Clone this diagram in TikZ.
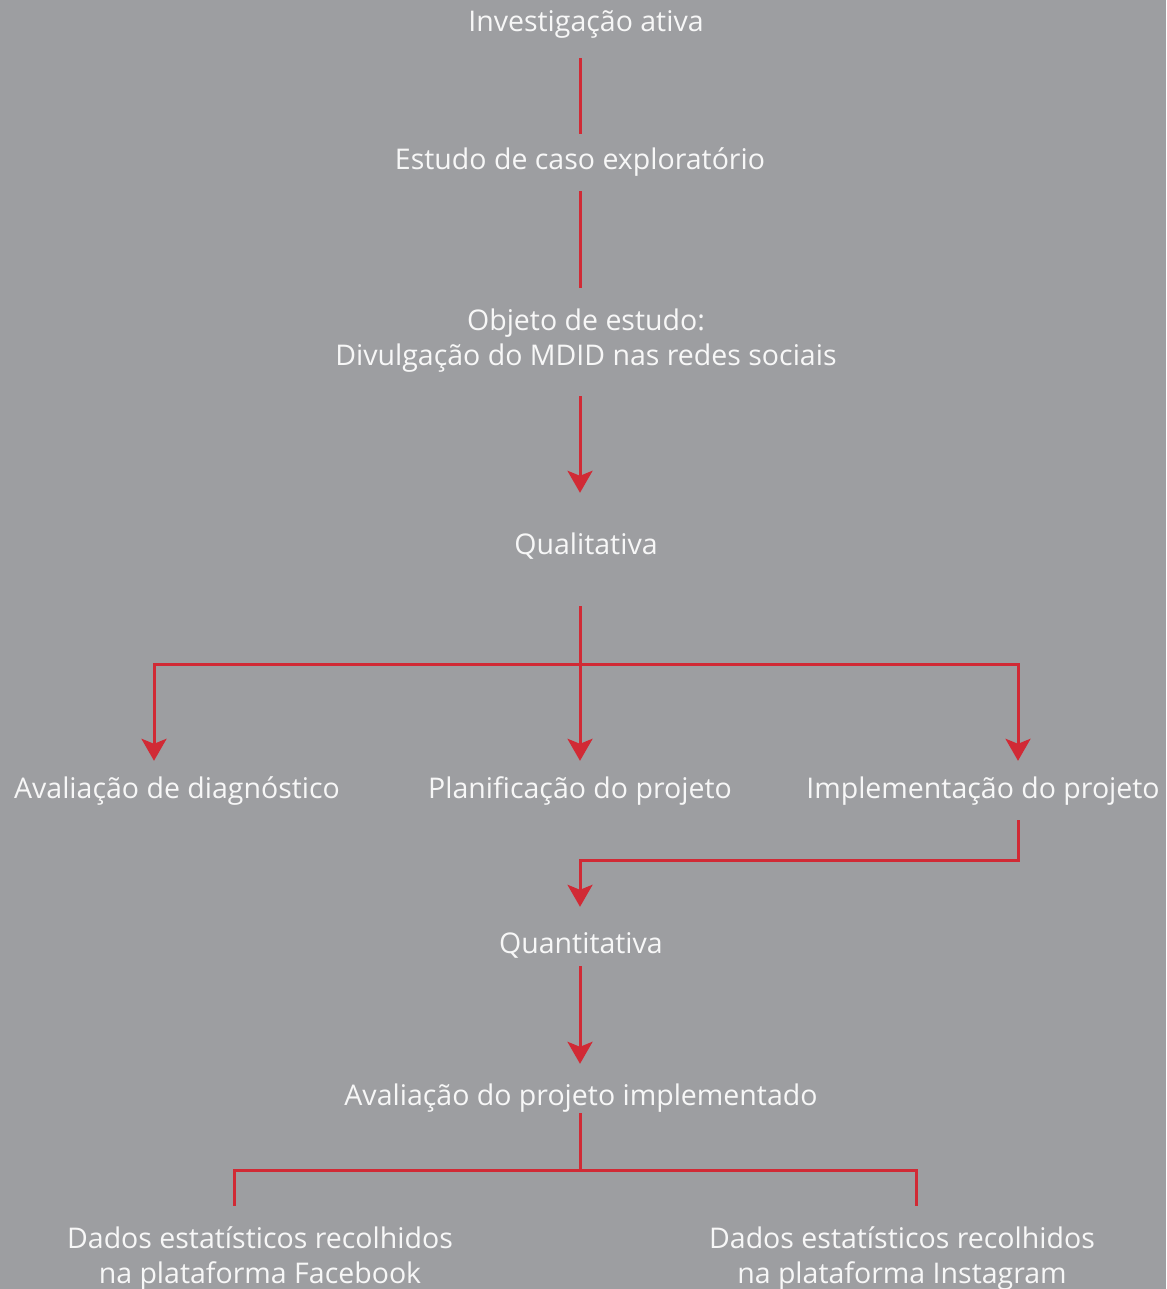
\documentclass[tikz,border=0pt]{standalone}
\usepackage{fontspec}
\setmainfont{Open Sans}
\usepackage{tikz}
\usetikzlibrary{
	positioning,
	arrows.meta
}
\definecolor{bggray}{HTML}{9D9EA1}
\definecolor{flowred}{HTML}{D12A35}
\definecolor{txtwhite}{HTML}{F7F7F7}
\tikzset{
	lblbase/.style={anchor=base, align=center, text=txtwhite, inner xsep=0pt,
		inner ysep=20pt, font=\fontsize{28.5}{35}\selectfont},
	lbl/.style={lblbase, text height=21pt, text depth=6pt},
	link/.style={draw=flowred, line width=3pt, line join=miter},
	arr/.style={link, -{Stealth[length=22pt, width=25pt, inset=5pt]}}
}

\begin{document}
\begin{tikzpicture}[x=1pt, y=-1pt]
		\fill[bggray] (0,0) rectangle (1166,1289);
		\useasboundingbox (0,0) rectangle (1166,1289);

		\node[lbl] (inv)   at (586,32)   {Investigação ativa};
		\node[lbl] (est)   at (580,170)  {Estudo de caso exploratório};
		\node[lblbase] (obj) at (586,365) {Objeto de estudo:\\Divulgação do MDID nas redes sociais};
		\node[lbl] (qual)  at (586,554)  {Qualitativa};
		\node[lbl] (diag)  at (177,798)  {Avaliação de diagnóstico};
		\node[lbl] (plan)  at (580,798)  {Planificação do projeto};
		\node[lbl] (impl)  at (983,798)  {Implementação do projeto};
		\node[lbl] (quant) at (581,953)  {Quantitativa};
		\node[lbl] (aval)  at (581,1105) {Avaliação do projeto implementado};
		\node[lblbase] (fb) at (260,1283) {Dados estatísticos recolhidos\\na plataforma Facebook};
		\node[lblbase] (ig) at (902,1283) {Dados estatísticos recolhidos\\na plataforma Instagram};

		\coordinate (qsplit) at (580,664);
		\coordinate (asplit) at (580,1170);

		% top chain
		\draw[link] ([xshift=-6pt]inv.south) -- ([yshift=-5pt]est.north);
		\draw[link] ([yshift=5pt]est.south) -- ([xshift=-6pt]obj.north);
		\draw[arr, shorten >=20pt] ([xshift=-6pt,yshift=-4pt]obj.south) -- ([xshift=-6pt]qual.north);

		% qualitativa branches
		\draw[link, shorten <=26pt] ([xshift=-6pt]qual.south) -- (qsplit);
		\draw[arr, shorten >=-4pt] (qsplit) -| ([xshift=-23pt]diag.north);
		\draw[arr, shorten >=-4pt] (qsplit) -- (plan.north);
		\draw[arr, shorten >=-4pt] (qsplit) -| ([xshift=35pt]impl.north);

		% implementacao to quantitativa
		\draw[arr] ([xshift=35pt,yshift=4pt]impl.south) -- ++(0,40) -| ([xshift=-1pt,yshift=5pt]quant.north);
		\draw[arr, shorten <=-13pt] ([xshift=-1pt]quant.south) -- ([xshift=-1pt]aval.north);

		% final split
		\draw[link, shorten <=-18pt] ([xshift=-1pt]aval.south) -- (asplit);
		\draw[link] (asplit) -| ([xshift=-26pt]fb.north);
		\draw[link] (asplit) -| ([xshift=14pt]ig.north);
	\end{tikzpicture}
\end{document}
